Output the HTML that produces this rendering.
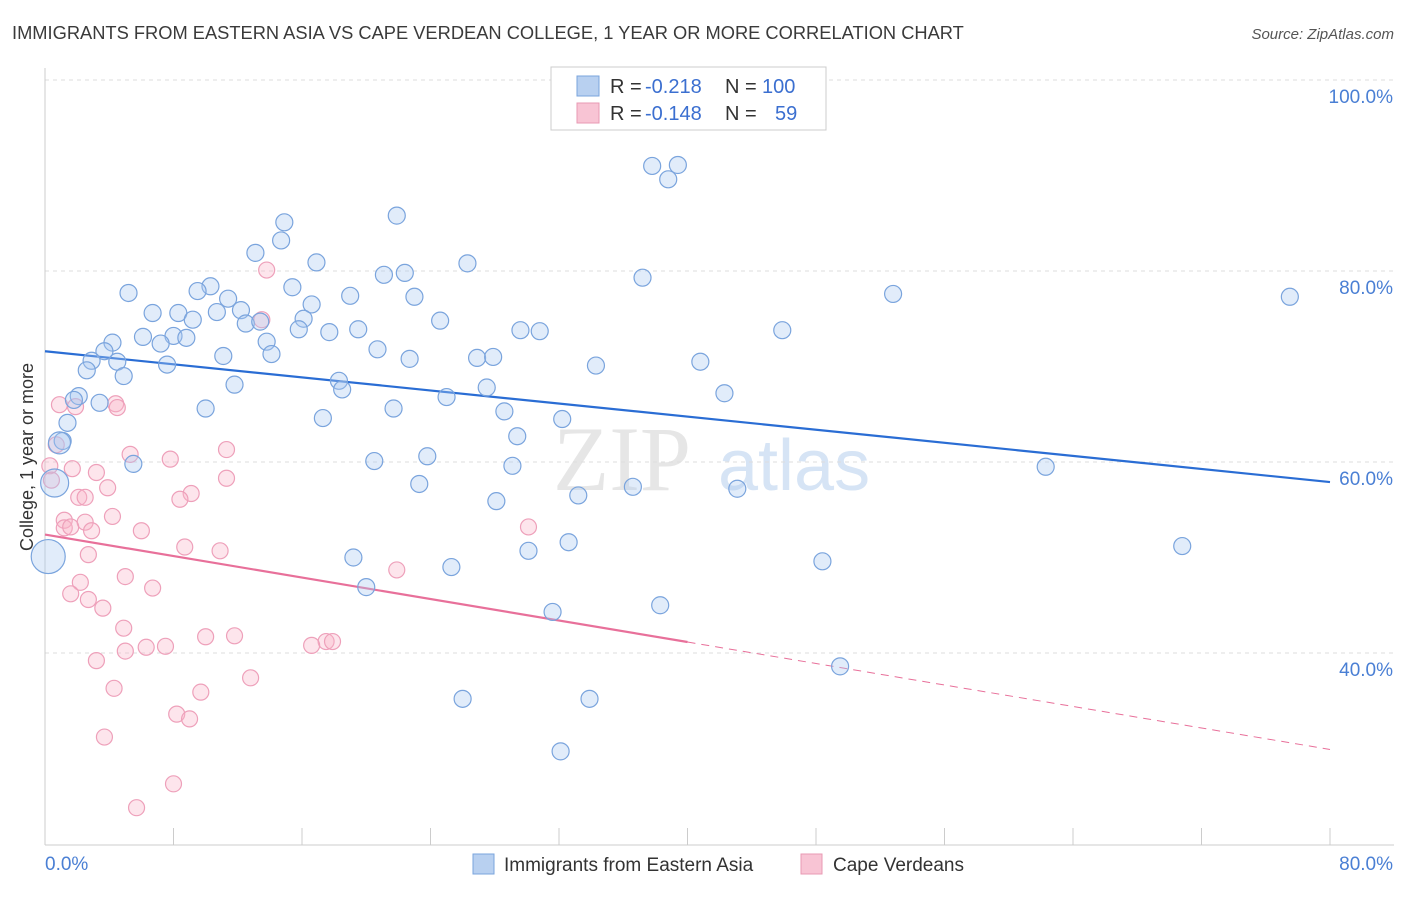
<!DOCTYPE html>
<html><head><meta charset="utf-8"><style>
body{margin:0;background:#fff;font-family:"Liberation Sans",sans-serif;}
</style></head><body>
<svg width="1406" height="892" xmlns="http://www.w3.org/2000/svg" id="chart" font-family="Liberation Sans, sans-serif">
<text x="12" y="39" font-size="18.3" fill="#3a3a3a">IMMIGRANTS FROM EASTERN ASIA VS CAPE VERDEAN COLLEGE, 1 YEAR OR MORE CORRELATION CHART</text>
<text x="1394" y="39" font-size="15" fill="#555" text-anchor="end" font-style="italic">Source: ZipAtlas.com</text>
<text x="553" y="490" font-size="92" fill="#e6e6e6" font-family="Liberation Serif, serif">ZIP</text>
<text x="718" y="490" font-size="72" fill="#d6e4f5">atlas</text>
<g id="grid"></g><g id="axes"></g><g id="lines"></g><g id="pts"></g>
<text transform="translate(33,457) rotate(-90)" font-size="18" fill="#333" text-anchor="middle">College, 1 year or more</text>
<g font-size="20">
<rect x="551" y="67" width="275" height="63" fill="#fff" stroke="#ccc"/>
<rect x="577" y="76" width="22" height="20" fill="#b8d0f0" stroke="#7aa4dd"/>
<rect x="577" y="103" width="22" height="20" fill="#f8c4d4" stroke="#e89ab3"/>
<text x="610" y="93" fill="#333">R =</text><text x="645" y="93" fill="#3b6fd0">-0.218</text>
<text x="725" y="93" fill="#333">N =</text><text x="762" y="93" fill="#3b6fd0">100</text>
<text x="610" y="120" fill="#333">R =</text><text x="645" y="120" fill="#3b6fd0">-0.148</text>
<text x="725" y="120" fill="#333">N =</text><text x="775" y="120" fill="#3b6fd0">59</text>
</g>
<g>
<rect x="473" y="854" width="21" height="20" fill="#b8d0f0" stroke="#7aa4dd"/>
<text x="504" y="871" font-size="19" fill="#333">Immigrants from Eastern Asia</text>
<rect x="801" y="854" width="21" height="20" fill="#f8c4d4" stroke="#e89ab3"/>
<text x="833" y="871" font-size="19" fill="#333">Cape Verdeans</text>
</g>
</svg>
<script>
const blueX=[37.8,39.4,38.8,21.9,14.9,14.7,13.1,16.9,26.3,21.1,22.4,37.2,15.4,10.3,5.2,19.0,23.0,9.5,11.4,52.8,77.5,16.6,6.7,8.3,10.7,12.2,9.2,16.1,12.5,13.4,24.6,15.8,17.7,19.5,29.6,30.8,45.9,6.1,8.0,8.8,4.2,7.2,13.8,3.7,20.7,14.1,11.1,2.9,4.5,22.7,26.9,27.9,7.6,34.3,40.8,2.6,4.9,18.3,11.8,18.5,27.5,42.3,25.0,2.1,1.8,3.4,10.0,21.7,28.6,17.3,32.2,1.4,29.4,1.1,0.9,23.8,20.5,5.5,29.1,62.3,0.6,23.3,36.6,43.1,33.2,28.1,32.6,70.8,30.1,0.2,19.2,48.4,25.3,20.0,38.3,31.6,49.5,26.0,33.9,32.1];
const blueY=[91.0,91.1,89.6,85.8,85.1,83.2,81.9,80.9,80.8,79.6,79.8,79.3,78.3,78.4,77.7,77.4,77.3,77.9,77.1,77.6,77.3,76.5,75.6,75.6,75.7,75.9,74.9,75.0,74.5,74.7,74.8,73.9,73.6,73.9,73.8,73.7,73.8,73.1,73.2,73.0,72.5,72.4,72.6,71.6,71.8,71.3,71.1,70.6,70.5,70.8,70.9,71.0,70.2,70.1,70.5,69.6,69.0,68.5,68.1,67.6,67.8,67.2,66.8,66.9,66.5,66.2,65.6,65.6,65.3,64.6,64.5,64.1,62.7,62.2,62.0,60.6,60.1,59.8,59.6,59.5,57.8,57.7,57.4,57.2,56.5,55.9,51.6,51.2,50.7,50.1,50.0,49.6,49.0,46.9,45.0,44.3,38.6,35.2,35.2,29.7];
const blueR={74:11,80:14,89:17};
const pinkX=[13.8,13.5,0.9,1.9,4.4,4.5,0.7,11.3,5.3,7.8,0.3,1.7,3.2,11.3,0.4,3.9,2.1,2.5,9.1,8.4,4.2,1.2,2.5,1.2,1.6,2.9,6.0,30.1,8.7,10.9,2.7,21.9,5.0,2.2,6.7,1.6,2.7,3.6,4.9,11.8,10.0,17.5,17.9,16.6,6.3,7.5,5.0,3.2,12.8,4.3,9.7,8.2,9.0,3.7,8.0,5.7];
const pinkY=[80.1,74.9,66.0,65.8,66.1,65.7,61.8,61.3,60.8,60.3,59.6,59.3,58.9,58.3,58.1,57.3,56.3,56.3,56.7,56.1,54.3,53.9,53.7,53.1,53.2,52.8,52.8,53.2,51.1,50.7,50.3,48.7,48.0,47.4,46.8,46.2,45.6,44.7,42.6,41.8,41.7,41.2,41.2,40.8,40.6,40.7,40.2,39.2,37.4,36.3,35.9,33.6,33.1,31.2,26.3,23.8];
const yTicks=[40,60,80,100];
const xTickLabels=["0.0%","80.0%"];
const blueTrend=[71.6,57.9], pinkTrend=[52.4,29.9], pinkSolidEnd=40;
const X=v=>45+v/80*1285, Y=v=>80+(100-v)*9.55;
const NS="http://www.w3.org/2000/svg";
function mk(p,t,a){const e=document.createElementNS(NS,t);for(const k in a)e.setAttribute(k,a[k]);p.appendChild(e);return e;}
const grid=document.getElementById('grid'),axes=document.getElementById('axes'),lines=document.getElementById('lines'),pts=document.getElementById('pts');
yTicks.forEach(t=>{const l=mk(grid,'line',{x1:45,x2:1394,y1:Y(t),y2:Y(t),stroke:'#ddd','stroke-dasharray':'4,4'});


const tx=mk(axes,'text',{x:1393,y:Y(t)+23,'font-size':19,fill:'#4a7fd4','text-anchor':'end'});tx.textContent=t.toFixed(1)+'%';

});
const ya=mk(axes,'line',{x1:45,x2:45,y1:68,y2:845,stroke:'#ccc'});


const xa=mk(axes,'line',{x1:45,x2:1394,y1:845,y2:845,stroke:'#ccc'});


for(let i=0;i<=10;i++){const t=mk(axes,'line',{x1:X(i*8),x2:X(i*8),y1:828,y2:845,stroke:'#ccc'});

}
const l0=mk(axes,'text',{x:45,y:870,'font-size':19,fill:'#4a7fd4'});l0.textContent=xTickLabels[0];


const l1=mk(axes,'text',{x:1393,y:870,'font-size':19,fill:'#4a7fd4','text-anchor':'end'});l1.textContent=xTickLabels[1];


pinkX.forEach((x,i)=>{const c=mk(pts,'circle',{cx:X(x),cy:Y(pinkY[i]),r:8,fill:'rgba(248,180,200,0.35)',stroke:'#eea0ba','stroke-width':1.2});

});
blueX.forEach((x,i)=>{const c=mk(pts,'circle',{cx:X(x),cy:Y(blueY[i]),r:blueR[i]||8.5,fill:'rgba(170,200,240,0.35)',stroke:'#7aa4dd','stroke-width':1.2});

});
const bt=mk(lines,'line',{x1:X(0),y1:Y(blueTrend[0]),x2:X(80),y2:Y(blueTrend[1]),stroke:'#2a6dd4','stroke-width':2.2});


const py=v=>pinkTrend[0]+(pinkTrend[1]-pinkTrend[0])*v/80;
const pt=mk(lines,'line',{x1:X(0),y1:Y(py(0)),x2:X(pinkSolidEnd),y2:Y(py(pinkSolidEnd)),stroke:'#e8709a','stroke-width':2.2});


const pd=mk(lines,'line',{x1:X(pinkSolidEnd),y1:Y(py(pinkSolidEnd)),x2:X(80),y2:Y(py(80)),stroke:'#e8709a','stroke-width':1,'stroke-dasharray':'8,6'});


</script>
</body></html>
